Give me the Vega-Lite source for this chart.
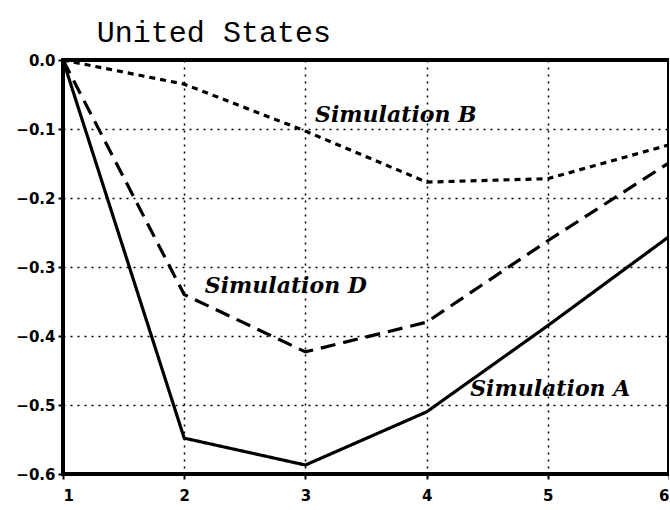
{
  "$schema": "https://vega.github.io/schema/vega-lite/v6.json",
  "autosize": {"type": "none"},
  "padding": {"left": 63, "top": 60, "right": 0, "bottom": 36},
  "width": 606,
  "height": 414,
  "background": "white",
  "title": {
    "text": "United States",
    "anchor": "start",
    "dx": 81,
    "offset": 5,
    "font": "Liberation Mono",
    "fontSize": 30,
    "fontWeight": "normal",
    "color": "black"
  },
  "config": {
    "view": {"stroke": "black", "strokeWidth": 4},
    "axis": {
      "domain": false,
      "grid": true,
      "gridColor": "black",
      "gridDash": [2, 5],
      "gridWidth": 1.5,
      "gridOpacity": 1,
      "tickColor": "black",
      "tickWidth": 2,
      "tickSize": 5,
      "labelFont": "DejaVu Sans",
      "labelFontWeight": "bold",
      "labelFontSize": 15,
      "labelColor": "black",
      "title": null
    }
  },
  "data": {
    "values": [
      {"t": 1, "v": 0.0, "s": "A"},
      {"t": 2, "v": -0.548, "s": "A"},
      {"t": 3, "v": -0.587, "s": "A"},
      {"t": 4, "v": -0.51, "s": "A"},
      {"t": 5, "v": -0.385, "s": "A"},
      {"t": 6, "v": -0.256, "s": "A"},
      {"t": 1, "v": 0.0, "s": "D"},
      {"t": 2, "v": -0.34, "s": "D"},
      {"t": 3, "v": -0.423, "s": "D"},
      {"t": 4, "v": -0.38, "s": "D"},
      {"t": 5, "v": -0.262, "s": "D"},
      {"t": 6, "v": -0.149, "s": "D"},
      {"t": 1, "v": 0.0, "s": "B"},
      {"t": 2, "v": -0.035, "s": "B"},
      {"t": 3, "v": -0.103, "s": "B"},
      {"t": 4, "v": -0.177, "s": "B"},
      {"t": 5, "v": -0.172, "s": "B"},
      {"t": 6, "v": -0.123, "s": "B"}
    ]
  },
  "layer": [
    {
      "mark": {"type": "line", "color": "black", "strokeWidth": 3.2, "clip": true},
      "encoding": {
        "x": {"field": "t", "type": "quantitative", "scale": {"domain": [1, 6], "nice": false},
              "axis": {"values": [1, 2, 3, 4, 5, 6], "format": "d", "labelPadding": 9}},
        "y": {"field": "v", "type": "quantitative", "scale": {"domain": [-0.6, 0], "nice": false, "zero": false},
              "axis": {"values": [0, -0.1, -0.2, -0.3, -0.4, -0.5, -0.6], "format": ".1f", "labelPadding": 3}},
        "strokeDash": {"field": "s", "type": "nominal",
                       "scale": {"domain": ["A", "B", "D"], "range": [[1, 0], [6, 5], [15, 8]]},
                       "legend": null}
      }
    },
    {
      "data": {
        "values": [
          {"t": 3.08, "v": -0.08, "label": "Simulation B"},
          {"t": 2.17, "v": -0.328, "label": "Simulation D"},
          {"t": 4.36, "v": -0.477, "label": "Simulation A"}
        ]
      },
      "mark": {"type": "text", "align": "left", "baseline": "middle", "font": "DejaVu Serif",
               "fontStyle": "italic", "fontWeight": "bold", "fontSize": 22, "color": "black"},
      "encoding": {
        "x": {"field": "t", "type": "quantitative"},
        "y": {"field": "v", "type": "quantitative"},
        "text": {"field": "label"}
      }
    }
  ]
}
